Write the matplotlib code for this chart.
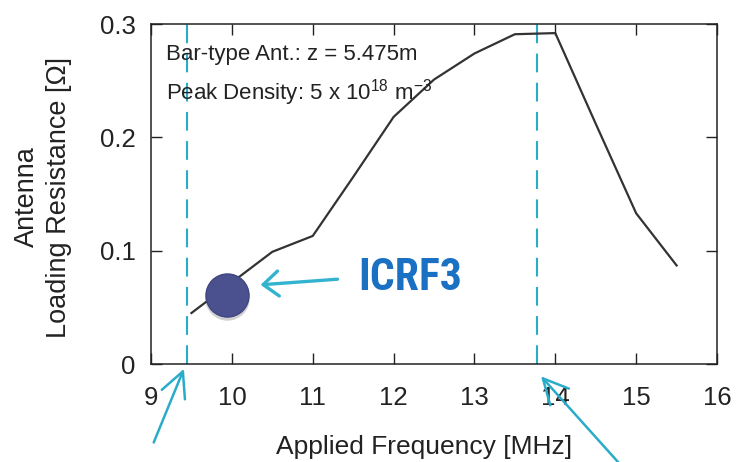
import matplotlib.pyplot as plt

# values
freq = [9.5, 10.5, 11.0, 11.5, 12.0, 12.5, 13.0, 13.5, 14.0, 14.5, 15.0, 15.5]
resistance = [0.045, 0.099, 0.113, 0.165, 0.218, 0.251, 0.274, 0.291, 0.292, 0.212, 0.133, 0.087]
band_limits = [9.44, 13.77]
icrf3_freq = 9.94
icrf3_res = 0.061
x_ticks = [9, 10, 11, 12, 13, 14, 15, 16]
y_ticks = [0, 0.1, 0.2, 0.3]
y_tick_labels = ["0", "0.1", "0.2", "0.3"]

plt.rcParams['font.family'] = ['Liberation Sans', 'DejaVu Sans']
plt.rcParams['mathtext.fontset'] = 'custom'
plt.rcParams['mathtext.rm'] = 'Liberation Sans'

teal = '#2aacc9'

fig = plt.figure(figsize=(7.36, 4.62), dpi=100)
ax = fig.add_axes([0.2052, 0.2121, 0.769, 0.7359])

ax.plot(freq, resistance, color='#333333', lw=1.6, zorder=3)

for xv in band_limits:
    ax.axvline(xv, color=teal, lw=1.5, linestyle=(0, (9, 5)), zorder=2)

# ICRF3 marker with a soft shadow
ax.plot(icrf3_freq, icrf3_res - 0.003, 'o', ms=32, color='#000000', alpha=0.18,
        mec='none', zorder=4)
ax.plot(icrf3_freq, icrf3_res, 'o', ms=31, color='#4b518e', mec='#3f4580',
        mew=1.0, zorder=5)

ax.annotate('', xy=(10.32, 0.0697), xytext=(11.34, 0.075),
            arrowprops=dict(arrowstyle='->,head_length=0.55,head_width=0.45',
                            color='#33b3cf', lw=2.4, mutation_scale=20))
ax.text(11.56, 0.0759, 'ICRF3', fontsize=31.5, fontweight='bold', color='#1a70c2',
        family=['Liberation Sans Narrow', 'Roboto Condensed', 'Roboto'],
        ha='left', va='center')

# arrows pointing at the band limits from below the axis
ax.annotate('', xy=(9.42, -0.002), xytext=(9.02, -0.0715), annotation_clip=False,
            arrowprops=dict(arrowstyle='->,head_length=0.9,head_width=0.45',
                            color=teal, lw=1.8, mutation_scale=20))
ax.annotate('', xy=(13.80, -0.009), xytext=(14.82, -0.09), annotation_clip=False,
            arrowprops=dict(arrowstyle='->,head_length=0.9,head_width=0.45',
                            color=teal, lw=1.8, mutation_scale=20))

ax.text(0.0265, 0.909, 'Bar-type Ant.: z = 5.475m', transform=ax.transAxes,
        fontsize=16, color='#222222', ha='left', va='center')
ax.text(0.0265, 0.797, r'Peak Density: 5 x 10$^{18}$ m$^{-3}$', transform=ax.transAxes,
        fontsize=16, color='#222222', ha='left', va='center')

ax.set_xlim(9, 16)
ax.set_ylim(0, 0.3)
ax.set_xticks(x_ticks)
ax.set_yticks(y_ticks)
ax.set_yticklabels(y_tick_labels)
ax.tick_params(direction='in', top=True, right=True, length=8, width=1.0,
               labelsize=18.5, colors='#222222')
ax.tick_params(axis='y', pad=11)
ax.tick_params(axis='x', pad=16)
for sp in ax.spines.values():
    sp.set_linewidth(1.1)
    sp.set_color('#222222')

ax.set_xlabel('Applied Frequency [MHz]', fontsize=19, color='#222222')
ax.xaxis.set_label_coords(0.483, -0.21)
fig.text(43 / 736, 1 - 197 / 462, 'Antenna\nLoading Resistance [Ω]', rotation=90,
         ha='center', va='center', multialignment='center', fontsize=19.5,
         color='#222222', linespacing=1.3)

fig.savefig('out.png', dpi=100)
